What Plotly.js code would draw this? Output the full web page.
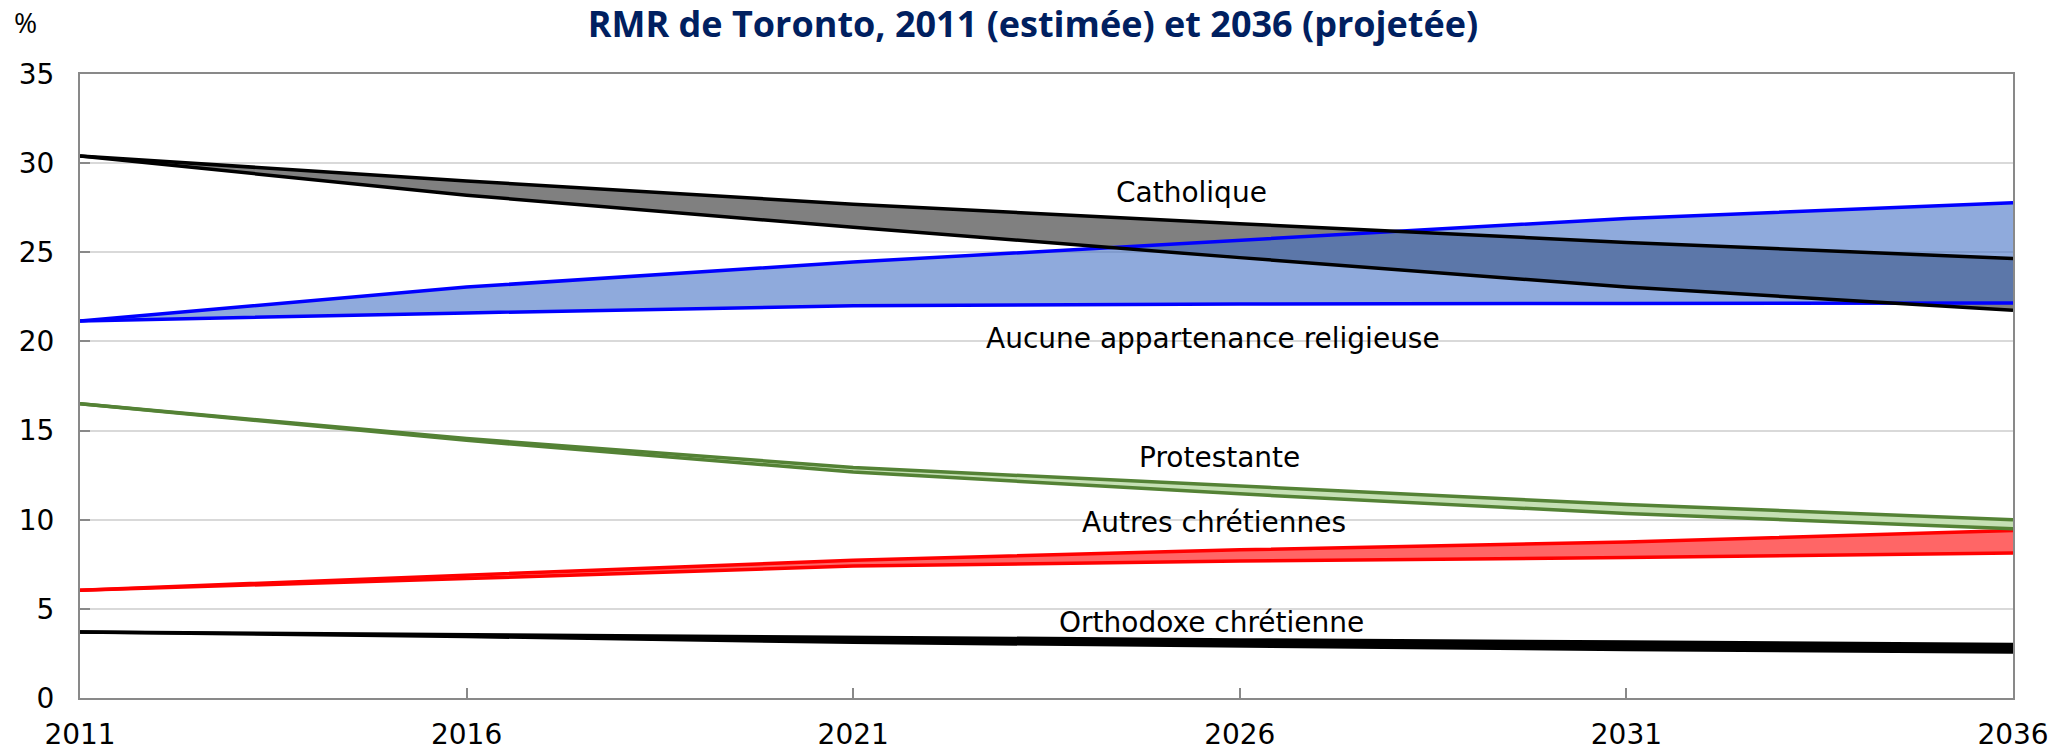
<!DOCTYPE html>
<html>
<head>
<meta charset="utf-8">
<script src="https://cdn.plot.ly/plotly-3.0.1.min.js"></script>
<style>
  html, body { margin: 0; padding: 0; background: #ffffff; }
  #chart { width: 2066px; height: 751px; }
</style>
</head>
<body>
<div id="chart"></div>
<script>
// ---- Data ----
const years = [2011, 2016, 2021, 2026, 2031, 2036];

const catholiqueHaut = [30.4, 29.0, 27.7, 26.6, 25.55, 24.65];
const catholiqueBas  = [30.4, 28.2, 26.4, 24.7, 23.05, 21.75];

const aucuneHaut = [21.15, 23.05, 24.45, 25.68, 26.9, 27.78];
const aucuneBas  = [21.15, 21.6, 22.0, 22.1, 22.13, 22.15];

const protestanteHaut = [16.5, 14.55, 12.93, 11.88, 10.85, 10.0];
const protestanteBas  = [16.5, 14.45, 12.68, 11.45, 10.35, 9.5];

const autresHaut = [6.05, 6.9, 7.73, 8.31, 8.75, 9.4];
const autresBas  = [6.05, 6.7, 7.4, 7.68, 7.88, 8.13];

const orthodoxeHaut = [3.7, 3.55, 3.38, 3.26, 3.14, 3.0];
const orthodoxeBas  = [3.7, 3.45, 3.12, 2.9, 2.72, 2.58];

const labels = ["Catholique", "Aucune appartenance religieuse", "Protestante", "Autres chrétiennes", "Orthodoxe chrétienne"];
const xTicks = [2011, 2016, 2021, 2026, 2031, 2036];
const yTicks = [0, 5, 10, 15, 20, 25, 30, 35];
const titleText = "RMR de Toronto, 2011 (estimée) et 2036 (projetée)";

// ---- Traces ----
function band(lo, hi, fillcolor) {
  return [
    { x: years, y: lo, type: "scatter", mode: "lines", line: { width: 0 }, hoverinfo: "skip", showlegend: false },
    { x: years, y: hi, type: "scatter", mode: "lines", line: { width: 0 }, fill: "tonexty", fillcolor: fillcolor, hoverinfo: "skip", showlegend: false }
  ];
}
function line(y, color, w) {
  return { x: years, y: y, type: "scatter", mode: "lines", line: { color: color, width: w }, hoverinfo: "skip", showlegend: false };
}

const traces = [].concat(
  band(orthodoxeBas, orthodoxeHaut, "#000000"),
  band(autresBas, autresHaut, "#FF6666"),
  band(protestanteBas, protestanteHaut, "#C5E0B4"),
  band(catholiqueBas, catholiqueHaut, "#808080"),
  band(aucuneBas, aucuneHaut, "rgba(68,114,196,0.6)"),
  [
    line(orthodoxeHaut, "#000000", 3.5),
    line(orthodoxeBas, "#000000", 3.5),
    line(autresHaut, "#FF0000", 3.5),
    line(autresBas, "#FF0000", 3.5),
    line(protestanteHaut, "#548235", 3.5),
    line(protestanteBas, "#548235", 3.5),
    line(aucuneHaut, "#0000FF", 3.5),
    line(aucuneBas, "#0000FF", 3.5),
    line(catholiqueHaut, "#000000", 3.5),
    line(catholiqueBas, "#000000", 3.5)
  ]
);

const labelFont = { family: "DejaVu Sans, Verdana, sans-serif", size: 28, color: "#000000" };
const annPos = [
  [2025.38, 28.35],
  [2025.65, 20.15],
  [2025.74, 13.5],
  [2025.67, 9.87],
  [2025.63, 4.25]
];
const annotations = labels.map((t, i) => ({
  text: t, x: annPos[i][0], y: annPos[i][1], xref: "x", yref: "y",
  showarrow: false, xanchor: "center", yanchor: "middle", font: labelFont
}));
annotations.push({
  text: "%", xref: "paper", yref: "paper", x: -0.028, y: 1.083,
  xanchor: "center", yanchor: "middle", showarrow: false,
  font: { family: "Open Sans, sans-serif", size: 28, color: "#000000" }
});

const layout = {
  width: 2066, height: 751,
  margin: { l: 80, r: 53, t: 74, b: 53, pad: 0 },
  paper_bgcolor: "#ffffff", plot_bgcolor: "#ffffff",
  showlegend: false,
  title: {
    text: "<b>" + titleText + "</b>",
    x: 0.5, xanchor: "center", xref: "container",
    y: 1 - 24 / 751, yanchor: "middle", yref: "container",
    font: { family: "Open Sans, sans-serif", size: 36, color: "#002060" }
  },
  xaxis: {
    range: [2011, 2036], tickvals: xTicks, ticktext: xTicks.map(String),
    ticks: "inside", ticklen: 10, tickwidth: 2, tickcolor: "#898989",
    showline: true, linecolor: "#898989", linewidth: 2, mirror: true,
    showgrid: false, zeroline: false,
    tickfont: labelFont, ticklabelstandoff: 10
  },
  yaxis: {
    range: [0, 35], tickvals: yTicks, ticktext: yTicks.map(String),
    ticks: "inside", ticklen: 10, tickwidth: 2, tickcolor: "#898989",
    showline: true, linecolor: "#898989", linewidth: 2, mirror: true,
    showgrid: true, gridcolor: "#D9D9D9", gridwidth: 2, zeroline: false,
    tickfont: labelFont, ticklabelstandoff: 18
  },
  annotations: annotations
};

Plotly.newPlot("chart", traces, layout, { staticPlot: true, displayModeBar: false });
</script>
</body>
</html>
